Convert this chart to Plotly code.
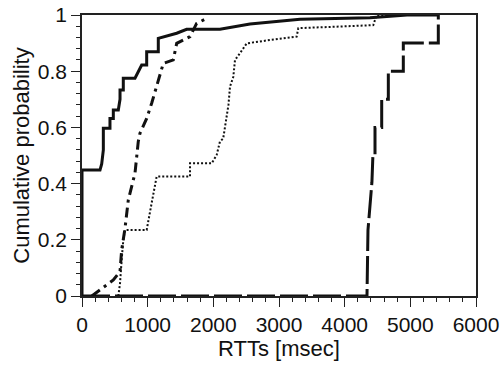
import plotly.graph_objects as go

# Solid CDF
solid_x = [0, 0, 274, 300, 325, 325, 426, 426, 477, 477, 553, 579, 579, 629, 629,
           807, 909, 985, 985, 1162, 1162, 1442, 1594, 2101, 2558, 2760, 3320, 4385, 4950, 5420]
solid_y = [0, 0.448, 0.448, 0.47, 0.52, 0.597, 0.597, 0.632, 0.632, 0.662, 0.662, 0.70, 0.733, 0.733, 0.775,
           0.775, 0.822, 0.822, 0.869, 0.869, 0.917, 0.935, 0.949, 0.949, 0.968, 0.972, 0.985, 0.99, 1.0, 1.0]

# Dash-dot CDF
dashdot_x = [150, 274, 477, 579, 604, 655, 705, 807, 857, 883, 985, 1061, 1137, 1238, 1390, 1442, 1645, 1746, 1873]
dashdot_y = [0, 0.021, 0.057, 0.087, 0.164, 0.241, 0.342, 0.437, 0.55, 0.579, 0.632, 0.686, 0.745, 0.828, 0.84,
             0.899, 0.923, 0.970, 0.985]

# Dotted CDF
dotted_x = [553, 579, 604, 629, 655, 985, 1060, 1137, 1645, 1645, 1975, 2051, 2101, 2150, 2230, 2254, 2304,
            2330, 2406, 2508, 2863, 3269, 3294, 4436, 4487, 4950]
dotted_y = [0, 0.045, 0.128, 0.199, 0.235, 0.235, 0.33, 0.425, 0.425, 0.472, 0.472, 0.502, 0.55, 0.56, 0.68,
            0.745, 0.78, 0.84, 0.864, 0.899, 0.911, 0.923, 0.953, 0.964, 1.0, 1.0]

# Long-dash CDF
longdash_x = [0, 4340, 4355, 4415, 4430, 4462, 4462, 4564, 4564, 4665, 4665, 4893, 4893, 5426, 5426]
longdash_y = [0, 0, 0.235, 0.405, 0.5, 0.5, 0.6, 0.6, 0.70, 0.70, 0.80, 0.80, 0.90, 0.90, 1.0]

x_ticks = [0, 1000, 2000, 3000, 4000, 5000, 6000]
y_ticks = [0, 0.2, 0.4, 0.6, 0.8, 1]
y_tick_text = ["0", "0.2", "0.4", "0.6", "0.8", "1"]

ink = "#111111"
FONT = "Liberation Sans"
fig = go.Figure()
fig.add_trace(go.Scatter(x=longdash_x, y=longdash_y, mode="lines",
                         line=dict(color=ink, width=3, dash="28px,5px")))
fig.add_trace(go.Scatter(x=dotted_x, y=dotted_y, mode="lines",
                         line=dict(color=ink, width=2, dash="2px,2px")))
fig.add_trace(go.Scatter(x=dashdot_x, y=dashdot_y, mode="lines",
                         line=dict(color=ink, width=3, dash="10px,5px,3px,5px")))
fig.add_trace(go.Scatter(x=solid_x, y=solid_y, mode="lines",
                         line=dict(color=ink, width=3)))

axis_common = dict(showgrid=False, zeroline=False, showline=True, linecolor="#222222", linewidth=1.6,
                   mirror=True, ticks="outside", ticklen=9, tickwidth=1.2, tickcolor="#222222",
                   automargin=False,
                   tickfont=dict(family=FONT, size=21, color="#111111"))

fig.update_layout(
    width=504, height=367,
    margin=dict(l=82, r=28, t=15, b=71, autoexpand=False),
    paper_bgcolor="white", plot_bgcolor="white",
    showlegend=False,
    xaxis=dict(range=[0, 6000], tickvals=x_ticks,
               minor=dict(dtick=200, ticklen=4, ticks="outside", tickcolor="#222222", tickwidth=1),
               title=dict(text="RTTs [msec]", font=dict(family=FONT, size=22, color="#111111"),
                          standoff=4),
               **axis_common),
    yaxis=dict(range=[0, 1], tickvals=y_ticks, ticktext=y_tick_text,
               minor=dict(dtick=0.04, ticklen=4, ticks="outside", tickcolor="#222222", tickwidth=1),
               title=dict(text="Cumulative probability",
                          font=dict(family=FONT, size=22, color="#111111"),
                          standoff=2),
               **axis_common),
)

fig.write_html("out.html")
